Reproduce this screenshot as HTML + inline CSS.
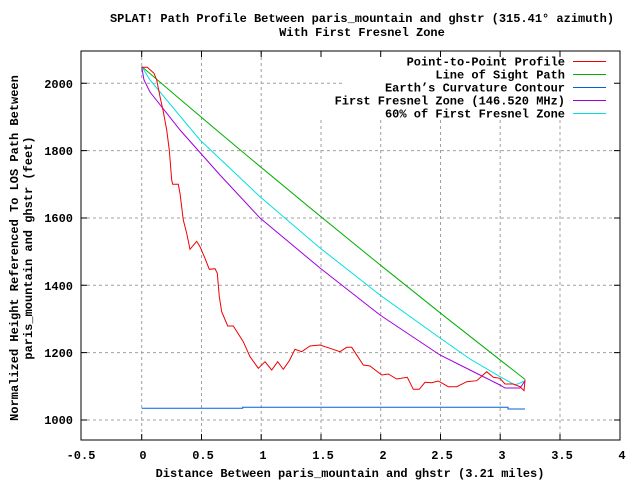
<!DOCTYPE html>
<html><head><meta charset="utf-8"><style>
html,body{margin:0;padding:0;background:#fff;}
svg{display:block;}
text{font-family:"Liberation Mono",monospace;font-weight:bold;font-size:12px;fill:#000;}
</style></head><body>
<svg width="640" height="480" viewBox="0 0 640 480" xmlns="http://www.w3.org/2000/svg">
<rect width="640" height="480" fill="#fff"/>
<g stroke="#a0a0a0" stroke-width="1" stroke-dasharray="3,3" fill="none">
<line x1="141.7" y1="51" x2="141.7" y2="440"/>
<line x1="201.5" y1="51" x2="201.5" y2="440"/>
<line x1="261.2" y1="51" x2="261.2" y2="440"/>
<line x1="321" y1="120" x2="321" y2="440"/>
<line x1="380.7" y1="120" x2="380.7" y2="440"/>
<line x1="440.5" y1="120" x2="440.5" y2="440"/>
<line x1="500.2" y1="120" x2="500.2" y2="440"/>
<line x1="560" y1="120" x2="560" y2="440"/>
<line x1="81" y1="83.3" x2="343" y2="83.3"/>
<line x1="81" y1="150.6" x2="620" y2="150.6"/>
<line x1="81" y1="218" x2="620" y2="218"/>
<line x1="81" y1="285.3" x2="620" y2="285.3"/>
<line x1="81" y1="352.6" x2="620" y2="352.6"/>
<line x1="81" y1="420" x2="620" y2="420"/>
</g>
<g stroke="#000" stroke-width="1">
<rect x="81" y="51" width="539" height="389" fill="none"/>
<path d="M81,83.3h6M620,83.3h-6M81,150.6h6M620,150.6h-6M81,218h6M620,218h-6M81,285.3h6M620,285.3h-6M81,352.6h6M620,352.6h-6M81,420h6M620,420h-6
M141.7,440v-6M141.7,51v6M201.5,440v-6M201.5,51v6M261.2,440v-6M261.2,51v6M321,440v-6M321,51v6M380.7,440v-6M380.7,51v6M440.5,440v-6M440.5,51v6M500.2,440v-6M500.2,51v6M560,440v-6M560,51v6"/>
</g>
<g text-anchor="end">
<text x="73" y="88">2000</text><text x="73" y="155">1800</text><text x="73" y="222">1600</text>
<text x="73" y="290">1400</text><text x="73" y="357">1200</text><text x="73" y="424">1000</text>
</g>
<g text-anchor="middle">
<text x="81" y="459">-0.5</text><text x="143" y="459">0</text><text x="203" y="459">0.5</text>
<text x="263" y="459">1</text><text x="323" y="459">1.5</text><text x="383" y="459">2</text>
<text x="442" y="459">2.5</text><text x="502" y="459">3</text><text x="562" y="459">3.5</text><text x="622" y="459">4</text>
<text x="350" y="477">Distance Between paris_mountain and ghstr (3.21 miles)</text>
<text x="362" y="22">SPLAT! Path Profile Between paris_mountain and ghstr (315.41° azimuth)</text>
<text x="362" y="36">With First Fresnel Zone</text>
<text transform="translate(18,248) rotate(-90)">Normalized Height Referenced To LOS Path Between</text>
<text transform="translate(32,248) rotate(-90)">paris_mountain and ghstr (feet)</text>
</g>
<g fill="none" stroke-width="1">
<polyline stroke="#0060e0" points="141.7,408.3 242.7,408.3 242.7,407.3 508,407.3 508,409 525,409"/>
<path stroke="#00b000" d="M141.7,66.5 Q333.5,231 525.3,379.6"/>
<polyline stroke="#00e0e0" points="141.7,66.5 150,80 200,140 260,196.7 320,248 380,295 440,338 470,359 500,376.7 515,385 525,381"/>
<polyline stroke="#a000e0" points="141.7,67 144,80 150,92 180,130 220,175 260,218 320,268 380,315 440,355 470,370 500,385 505,388 520,388 525,381"/>
<polyline stroke="#f00000" points="141.7,67.3 147.3,67.3 154,73.3 156.7,80 160,96.7 163.3,111.7 166.7,130 169.3,150 171.7,180 172.7,184.3 178.3,184.3 180,193.3 183.3,220 186.7,233.3 190,249.3 196.7,241.3 200,246.7 205,258.3 209.3,269.3 215,268.7 217.3,273.3 219.3,296.7 221.7,311.7 227.7,326 233.3,326 243.3,341.7 250,356.7 258.3,368.3 265,361.7 271.7,370 277.7,361.7 283.3,369.3 289.3,360.7 295,349.3 301.7,351.7 310,346 320,345 330,348.3 340,351.7 346.7,347.3 351.7,347.3 363.3,365 370,366 381.7,375 388.3,374 396.7,379 407.3,377.3 413.3,389.3 419.3,389.3 425,382.3 431.7,382.7 438.3,381 448.3,386.7 456.7,386.7 466.7,381.7 476.7,380.7 486.7,371.7 493.3,377.3 500,378.3 505,384 513.3,384 520,386.7 524,390.7 525,380"/>
</g>
<g text-anchor="end">
<text x="565" y="65.5">Point-to-Point Profile</text>
<text x="565" y="78.5">Line of Sight Path</text>
<text x="565" y="91.5">Earth’s Curvature Contour</text>
<text x="565" y="104.5">First Fresnel Zone (146.520 MHz)</text>
<text x="565" y="117.5">60% of First Fresnel Zone</text>
</g>
<g stroke-width="1">
<line x1="573" y1="61.5" x2="606" y2="61.5" stroke="#f00000"/>
<line x1="573" y1="74.5" x2="606" y2="74.5" stroke="#00b000"/>
<line x1="573" y1="87.5" x2="606" y2="87.5" stroke="#0060e0"/>
<line x1="573" y1="100.5" x2="606" y2="100.5" stroke="#a000e0"/>
<line x1="573" y1="113.5" x2="606" y2="113.5" stroke="#00e0e0"/>
</g>
</svg>
</body></html>
